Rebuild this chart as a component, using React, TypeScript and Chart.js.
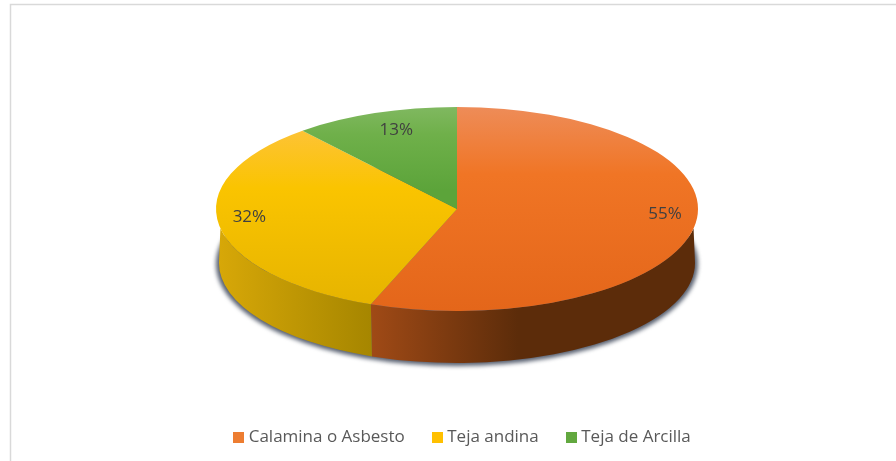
import React, { useEffect, useRef } from "react";
import { Chart, registerables } from "chart.js";

Chart.register(...registerables);

// ---- data ----
const categories = ["Calamina o Asbesto", "Teja andina", "Teja de Arcilla"];
const shares = [55, 32, 13];
const legendColors = ["#ED7D31", "#FFC000", "#62A83F"];

// ---- styling ----
const topStops = [
  ["#EE8C58", "#F07525", "#E4661A"],
  ["#FDC335", "#FAC400", "#E6B400"],
  ["#80B860", "#6FB04A", "#5CA43A"],
];
const wallStops = [
  ["#A04A16", "#5C2C0A"],
  ["#D8A808", "#A68600"],
  ["#5CA43A", "#3F7327"],
];
const labelRadius = [0.865, 0.865, 0.81];
const labelTurn = [4, 0, 1.5];

const W = 896;
const H = 461;
const CX = 457;
const CY = 209;
const RX = 241;
const RY = 102;
const K = RY / RX;
const BOTTOM_CY = 263;
const BOTTOM_RX = 238;
const BOTTOM_RY = 100;
const WALL_START = (11 * Math.PI) / 180;
const SKEW = (9.5 * Math.PI) / 180;
const FONT = '"Open Sans", sans-serif';
const FONT_SIZE = 17;

function warp(a: number) {
  const t = a + Math.PI / 2;
  return t - SKEW * Math.sin(t) - Math.PI / 2;
}

function swatch(color: string) {
  const c = document.createElement("canvas");
  c.width = 11;
  c.height = 11;
  const g = c.getContext("2d")!;
  g.fillStyle = color;
  g.fillRect(0, 0, 11, 11);
  return c;
}

const piePlugin = {
  id: "pie3d",
  beforeDraw(chart: any) {
    const { ctx } = chart;
    ctx.save();
    ctx.strokeStyle = "#D9D9D9";
    ctx.lineWidth = 1.5;
    ctx.beginPath();
    ctx.moveTo(10.5, H);
    ctx.lineTo(10.5, 4.5);
    ctx.lineTo(W, 4.5);
    ctx.stroke();
    ctx.restore();
  },
  afterLayout(chart: any) {
    const lg = chart.legend;
    lg.left += 16;
    lg.right += 16;
    lg.top = 437 - lg.options.labels.padding - 8;
  },
  afterDatasetsUpdate(chart: any) {
    for (const arc of chart.getDatasetMeta(0).data) {
      const s = warp(arc.startAngle);
      const e = warp(arc.endAngle);
      arc.labelAngle = warp((arc.startAngle + arc.endAngle) / 2);
      arc.startAngle = s;
      arc.endAngle = e;
      arc.circumference = e - s;
    }
  },
  beforeDatasetsDraw(chart: any) {
    const { ctx } = chart;
    const arcs = chart.getDatasetMeta(0).data;
    // soft shadow below the disc
    ctx.save();
    ctx.filter = "blur(2px)";
    ctx.fillStyle = "#586070";
    ctx.beginPath();
    ctx.ellipse(CX, BOTTOM_CY + 1, BOTTOM_RX + 3, BOTTOM_RY + 2, 0, 0, Math.PI * 2);
    ctx.fill();
    ctx.restore();
    // side wall: the visible (front) part of every slice
    arcs.forEach((arc: any, i: number) => {
      const a = Math.max(arc.startAngle, 0);
      const b = Math.min(arc.endAngle, Math.PI);
      if (b > a) paintWall(ctx, a, b, i);
    });
    // squash the library's round arcs into the tilted disc
    const first = arcs[0];
    ctx.save();
    ctx.translate(CX, CY);
    ctx.scale(1, K);
    ctx.translate(-first.x, -first.y);
  },
  afterDatasetsDraw(chart: any) {
    const { ctx } = chart;
    ctx.restore();
    const arcs = chart.getDatasetMeta(0).data;
    ctx.save();
    ctx.font = `${FONT_SIZE}px ${FONT}`;
    ctx.fillStyle = "#404040";
    ctx.textAlign = "center";
    ctx.textBaseline = "middle";
    arcs.forEach((arc: any, i: number) => {
      const m = arc.labelAngle + (labelTurn[i] * Math.PI) / 180;
      const r = RX * labelRadius[i];
      ctx.fillText(`${shares[i]}%`, CX + r * Math.cos(m), CY + r * K * Math.sin(m));
    });
    ctx.restore();
  },
};

function paintWall(ctx: any, a: number, b: number, i: number) {
  const x0 = CX + RX * Math.cos(b);
  const x1 = CX + RX * Math.cos(a);
  const g = ctx.createLinearGradient(x0, 0, x1, 0);
  const stops = wallStops[i];
  g.addColorStop(0, stops[0]);
  g.addColorStop(i === 0 ? 0.45 : 1, stops[1]);
  g.addColorStop(1, stops[1]);
  ctx.fillStyle = g;
  ctx.beginPath();
  // the wall leaves the top rim a little below the disc's widest point
  ctx.ellipse(CX, CY, RX, RY, 0, Math.max(a, WALL_START), Math.min(b, Math.PI - WALL_START), false);
  ctx.ellipse(CX, BOTTOM_CY, BOTTOM_RX, BOTTOM_RY, 0, b, a, true);
  ctx.closePath();
  ctx.fill();
}

function topFill(context: any) {
  const i = context.dataIndex ?? 0;
  const chart = context.chart;
  const area = chart.chartArea;
  if (!area) return legendColors[i];
  const cy = (area.top + area.bottom) / 2;
  const toArc = (y: number) => cy + (y - CY) / K;
  const ranges = [
    [107, 311],
    [131, 305],
    [107, 190],
  ];
  const g = chart.ctx.createLinearGradient(0, toArc(ranges[i][0]), 0, toArc(ranges[i][1]));
  g.addColorStop(0, topStops[i][0]);
  g.addColorStop(0.33, topStops[i][1]);
  g.addColorStop(1, topStops[i][2]);
  return g;
}

export default function App() {
  const ref = useRef<HTMLCanvasElement>(null);
  useEffect(() => {
    document.body.style.margin = "0";
    document.body.style.background = "#fff";
    const chart = new Chart(ref.current!, {
      type: "pie",
      data: {
        labels: categories,
        datasets: [
          {
            data: shares,
            backgroundColor: topFill,
            borderWidth: 0,
            radius: RX,
          } as any,
        ],
      },
      plugins: [piePlugin as any],
      options: {
        animation: false,
        responsive: false,
        maintainAspectRatio: false,
        plugins: {
          tooltip: { enabled: false },
          legend: {
            position: "bottom",
            labels: {
              usePointStyle: true,
              pointStyleWidth: 3,
              padding: 31,
              color: "#595959",
              font: { family: FONT, size: FONT_SIZE },
              generateLabels(c: any) {
                const items = (Chart as any).overrides.doughnut.plugins.legend.labels.generateLabels(c);
                return items.map((it: any, i: number) => ({
                  ...it,
                  pointStyle: swatch(legendColors[i]),
                }));
              },
            },
          },
        },
      },
    } as any);
    return () => chart.destroy();
  }, []);
  return <canvas ref={ref} width={W} height={H} style={{ display: "block" }} />;
}
